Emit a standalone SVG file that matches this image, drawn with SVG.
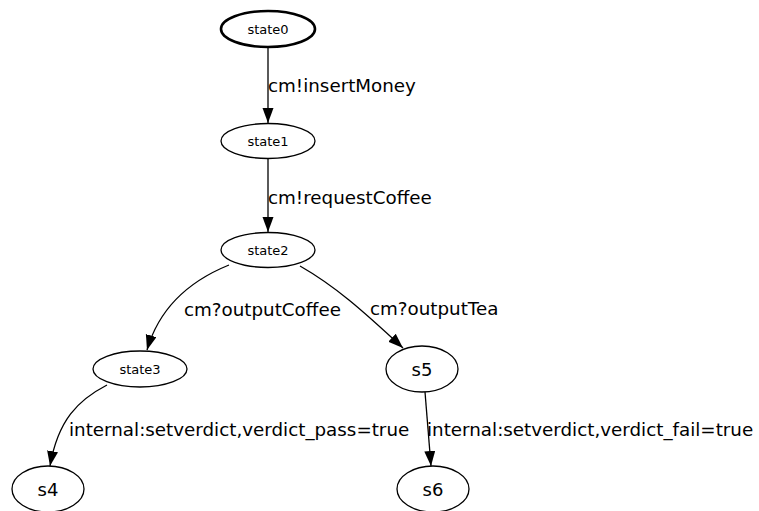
<svg xmlns="http://www.w3.org/2000/svg" width="759" height="511" viewBox="0 0 759 511">
  <defs>
    <marker id="arrow" markerUnits="userSpaceOnUse" markerWidth="16" markerHeight="12" refX="15" refY="5.5" orient="auto">
      <path d="M0,0 L15,5.5 L0,11 z" fill="#000"/>
    </marker>
  </defs>
  <style>
    .node ellipse { fill: #fff; stroke: #000; stroke-width: 1.3; }
    .node.start ellipse { stroke-width: 2.6; }
    .node text { font-family: "DejaVu Sans", sans-serif; text-anchor: middle; fill: #000; }
    .small { font-size: 13px; }
    .big { font-size: 18px; }
    .edges path { fill: none; stroke: #000; stroke-width: 1.3; marker-end: url(#arrow); }
    .edges text { font-family: "DejaVu Sans", sans-serif; font-size: 18.3px; fill: #000; }
  </style>
  <rect width="759" height="511" fill="#fff"/>

  <g class="edges" id="edges">
    <path d="M268,47 L268,123"/>
    <text x="268" y="92">cm!insertMoney</text>
    <path d="M268,158 L268,232"/>
    <text x="268" y="204">cm!requestCoffee</text>
    <path d="M229,265 C192,280 160,305 147,350"/>
    <text x="184" y="316">cm?outputCoffee</text>
    <path d="M300,266 C335,286 362,310 403,348"/>
    <text x="370" y="315">cm?outputTea</text>
    <path d="M107,385 C78,400 58,420 50,466"/>
    <text x="69" y="436">internal:setverdict,verdict_pass=true</text>
    <path d="M425,392 L431,466"/>
    <text x="427" y="436">internal:setverdict,verdict_fail=true</text>
  </g>

  <g class="node start" id="state0">
    <ellipse cx="268" cy="29" rx="47" ry="18"/>
    <text class="small" x="268" y="33.5">state0</text>
  </g>
  <g class="node" id="state1">
    <ellipse cx="268" cy="141" rx="47" ry="17.5"/>
    <text class="small" x="268" y="145.5">state1</text>
  </g>
  <g class="node" id="state2">
    <ellipse cx="268" cy="250" rx="47" ry="17.5"/>
    <text class="small" x="268" y="254.5">state2</text>
  </g>
  <g class="node" id="state3">
    <ellipse cx="140" cy="369" rx="47" ry="18"/>
    <text class="small" x="140" y="373.5">state3</text>
  </g>
  <g class="node" id="s5">
    <ellipse cx="422" cy="369" rx="36" ry="23"/>
    <text class="big" x="422" y="375.5">s5</text>
  </g>
  <g class="node" id="s4">
    <ellipse cx="48" cy="489" rx="36" ry="23"/>
    <text class="big" x="48" y="495.5">s4</text>
  </g>
  <g class="node" id="s6">
    <ellipse cx="433" cy="489" rx="36" ry="23"/>
    <text class="big" x="433" y="495.5">s6</text>
  </g>
</svg>
